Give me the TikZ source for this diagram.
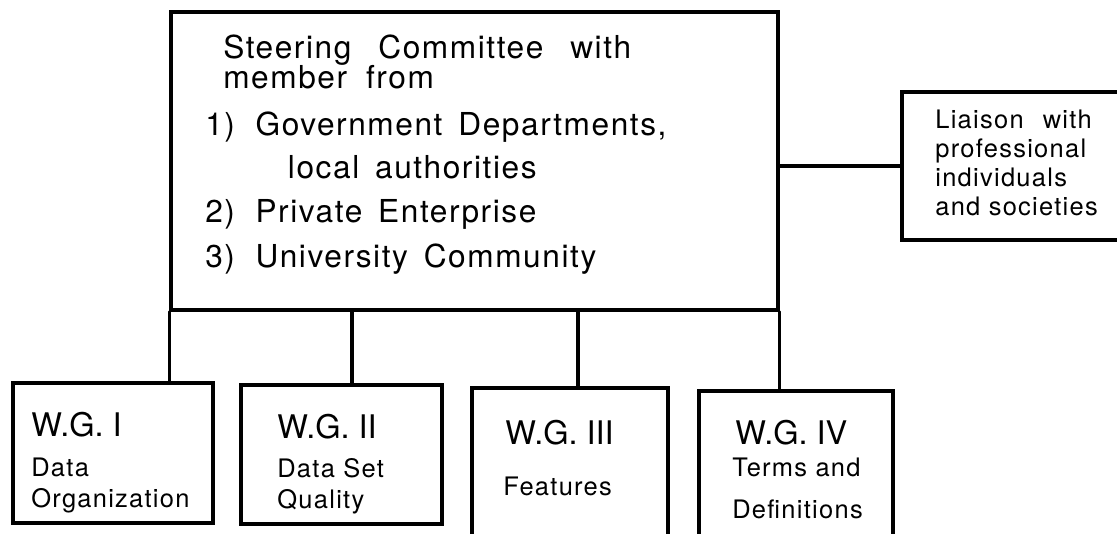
\documentclass[tikz,border=0pt]{standalone}
\usepackage{fontspec}
\setmainfont{TeX Gyre Heros}
\newfontfamily\spacedfont[LetterSpace=5]{TeX Gyre Heros}
\usetikzlibrary{fit}

\tikzset{
  box/.style={draw,line width=1.8pt,inner sep=0pt},
  link/.style={line width=1.8pt},
  steertext/.style={inner sep=0pt,align=left,anchor=north west,
    font={\spacedfont\fontsize{18}{17}\selectfont\lineskiplimit=-\maxdimen\relax\spaceskip=0.5em plus 0.1em\relax}},
  smalltext/.style={inner sep=0pt,align=left,anchor=north west,
    font={\spacedfont\fontsize{14.5}{16.5}\selectfont\lineskiplimit=-\maxdimen\relax}},
  wgtitle/.style={inner sep=0pt,anchor=north west,font=\fontsize{18.5}{20}\selectfont}
}

\begin{document}
\begin{tikzpicture}[x=0.02cm,y=-0.02cm,line cap=round]
\useasboundingbox (0,0) rectangle (1117,534);
\clip (0,0) rectangle (1117,534);

% steering committee and liaison
\node[box,fit={(171,12) (778,310)}] (steer) {};
\node[steertext] (steerlist) at (205,35)
  {\hspace*{10.2pt}Steering\hspace{0.85em}Committee\hspace{0.85em}with\\
   \hspace*{10.2pt}member\hspace{0.6em}from\\[9.8pt]
   1)\hspace{0.65em}Government Departments,\\[7.5pt]
   \hspace*{47pt}local authorities\\[8pt]
   2)\hspace{0.65em}Private Enterprise\\[8.6pt]
   3)\hspace{0.65em}University Community};
\node[box,fit={(902,92) (1130,240)}] (liaison) {};
\node[smalltext] (liaisontext) at (935,110)
  {Liaison\hspace{0.75em}with\\professional\\individuals\\and societies};

% working groups
\node[box,fit={(13,383) (213,523)}] (wg1) {};
\node[box,fit={(241,385) (442,524)}] (wg2) {};
\node[box,fit={(472,388) (668,545)}] (wg3) {};
\node[box,fit={(699,391) (893,545)}] (wg4) {};

\node[wgtitle] (wg1title) at (31,412) {W.G. I};
\node[wgtitle] (wg2title) at (277,414) {W.G. II};
\node[wgtitle] (wg3title) at (505,420) {W.G. III};
\node[wgtitle] (wg4title) at (735,420) {W.G. IV};

\node[smalltext,font={\spacedfont\fontsize{14.5}{17.6}\selectfont\lineskiplimit=-\maxdimen\relax}] (wg1sub) at (31,458) {Data\\Organization};
\node[smalltext,font={\spacedfont\fontsize{14.5}{17.6}\selectfont\lineskiplimit=-\maxdimen\relax}] (wg2sub) at (277,458) {Data Set\\Quality};
\node[smalltext] (wg3sub) at (503,477) {Features};
\node[smalltext,font={\spacedfont\fontsize{14.5}{23.9}\selectfont\lineskiplimit=-\maxdimen\relax}] (wg4sub) at (732,458) {Terms and\\Definitions};

% connectors
\coordinate (drop2) at (352,310);
\coordinate (drop3) at (578,310);
\draw[link] (steer.east |- liaison.west) -- (liaison.west);
\draw[link] (steer.south west) -- (steer.south west |- wg1.north);
\draw[link] (drop2) -- (drop2 |- wg2.north);
\draw[link] (drop3) -- (drop3 |- wg3.north);
\draw[link] (steer.south east) -- (steer.south east |- wg4.north);
\end{tikzpicture}
\end{document}
